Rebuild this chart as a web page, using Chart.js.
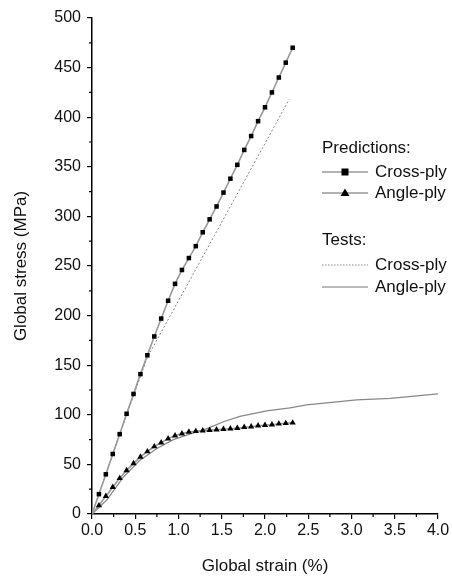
<!DOCTYPE html>
<html>
<head>
<meta charset="utf-8">
<script src="https://cdn.jsdelivr.net/npm/chart.js@4"></script>
<style>
  html, body { margin: 0; padding: 0; background: #fff; }
  #wrap { width: 452px; height: 577px; position: relative; }
</style>
</head>
<body>
<div id="wrap"><canvas id="chart"></canvas></div>
<script>
// Predictions (model) - strain in %, stress in MPa
const predStrain = [0, 0.08, 0.16, 0.24, 0.32, 0.40, 0.48, 0.56, 0.64, 0.72, 0.80, 0.88, 0.96, 1.04, 1.12,
    1.20, 1.28, 1.36, 1.44, 1.52, 1.60, 1.68, 1.76, 1.84, 1.92, 2.00, 2.08, 2.16, 2.24, 2.32];
const crossPredStress = [0, 20, 40, 60.5, 80.5, 101, 121, 141, 160, 179, 197, 215, 232, 246, 258,
    270, 284, 297, 310, 324, 338, 352, 367, 381, 396, 410, 425, 440, 455, 470];
const anglePredStress = [0, 8.5, 18, 27, 36, 44, 51, 57.5, 63, 68, 72, 76, 79, 81, 82.7,
    83.4, 84, 84.5, 85, 85.5, 86, 86.5, 87.5, 88, 89, 89.5, 90, 91, 91.5, 92];

// Tests
const crossTestStrain = [0, 0.32, 0.64, 1.36, 2.28];
const crossTestStress = [0, 80, 158, 272, 418];
const angleTestStrain = [0, 0.17, 0.36, 0.55, 0.75, 0.94, 1.13, 1.33, 1.52, 1.71, 2.02, 2.29, 2.48, 3.06, 3.45, 4.0];
const angleTestStress = [0, 14, 37, 54, 66, 75, 80.5, 86, 93, 98.5, 104, 107, 110, 115, 116.5, 121];

// axis ticks
const xMajor = [0, 0.5, 1.0, 1.5, 2.0, 2.5, 3.0, 3.5, 4.0];
const xMinor = [0.25, 0.75, 1.25, 1.75, 2.25, 2.75, 3.25, 3.75];
const yMinor = [25, 75, 125, 175, 225, 275, 325, 375, 425, 475];

const FONT = 'Liberation Sans, Arial, sans-serif';
const TEXT = '#111';

function zip(xs, ys) {
    return xs.map((x, i) => ({ x: x, y: ys[i] }));
}

// minor ticks, drawn from the scales
const minorTicks = {
    id: 'minorTicks',
    afterDraw(chart) {
        const ctx = chart.ctx;
        const xs = chart.scales.x, ys = chart.scales.y;
        ctx.save();
        ctx.strokeStyle = '#000';
        ctx.lineWidth = 1.2;
        ctx.beginPath();
        xMinor.forEach(v => {
            const px = xs.getPixelForValue(v);
            ctx.moveTo(px, xs.top);
            ctx.lineTo(px, xs.top + 3);
        });
        yMinor.forEach(v => {
            const py = ys.getPixelForValue(v);
            ctx.moveTo(ys.right, py);
            ctx.lineTo(ys.right - 3, py);
        });
        ctx.stroke();
        ctx.restore();
    }
};

// legend with two groups
const groupLegend = {
    id: 'groupLegend',
    afterDraw(chart) {
        const ctx = chart.ctx;
        const x0 = 322, x1 = 368, tx = 375;
        ctx.save();
        ctx.font = '17px ' + FONT;
        ctx.fillStyle = TEXT;
        ctx.textBaseline = 'middle';
        ctx.textAlign = 'left';

        ctx.fillText('Predictions:', x0, 148);
        ctx.fillText('Tests:', x0, 240);

        const rows = [
            { y: 172, label: 'Cross-ply', dash: [], color: '#999', w: 1.6, marker: 'rect' },
            { y: 193, label: 'Angle-ply', dash: [], color: '#999', w: 1.6, marker: 'tri' },
            { y: 265, label: 'Cross-ply', dash: [1.5, 1.5], color: '#888', w: 1, marker: null },
            { y: 287, label: 'Angle-ply', dash: [], color: '#777', w: 1.2, marker: null }
        ];
        rows.forEach(r => {
            ctx.beginPath();
            ctx.setLineDash(r.dash);
            ctx.strokeStyle = r.color;
            ctx.lineWidth = r.w;
            ctx.moveTo(x0, r.y);
            ctx.lineTo(x1, r.y);
            ctx.stroke();
            ctx.setLineDash([]);
            const cx = (x0 + x1) / 2;
            ctx.fillStyle = '#000';
            if (r.marker === 'rect') {
                ctx.fillRect(cx - 3.5, r.y - 3.5, 7, 7);
            } else if (r.marker === 'tri') {
                ctx.beginPath();
                ctx.moveTo(cx, r.y - 4.5);
                ctx.lineTo(cx + 4.5, r.y + 3);
                ctx.lineTo(cx - 4.5, r.y + 3);
                ctx.closePath();
                ctx.fill();
            }
            ctx.fillStyle = TEXT;
            ctx.fillText(r.label, tx, r.y);
        });
        ctx.restore();
    }
};

new Chart(document.getElementById('chart'), {
    type: 'scatter',
    data: {
        datasets: [
            {
                label: 'Predictions Cross-ply',
                data: zip(predStrain, crossPredStress),
                showLine: true,
                borderColor: '#999',
                borderWidth: 1.6,
                pointStyle: 'rect',
                pointRadius: ctx => ctx.dataIndex === 0 ? 0 : 3.2,
                pointBackgroundColor: '#000',
                pointBorderColor: '#000',
                pointBorderWidth: 0
            },
            {
                label: 'Predictions Angle-ply',
                data: zip(predStrain, anglePredStress),
                showLine: true,
                borderColor: '#999',
                borderWidth: 1.6,
                pointStyle: 'triangle',
                pointRadius: ctx => ctx.dataIndex === 0 ? 0 : 3.6,
                pointBackgroundColor: '#000',
                pointBorderColor: '#000',
                pointBorderWidth: 0
            },
            {
                label: 'Tests Cross-ply',
                data: zip(crossTestStrain, crossTestStress),
                showLine: true,
                borderColor: '#888',
                borderWidth: 1,
                borderDash: [2, 2],
                pointRadius: 0
            },
            {
                label: 'Tests Angle-ply',
                data: zip(angleTestStrain, angleTestStress),
                showLine: true,
                borderColor: '#888',
                borderWidth: 1.3,
                pointRadius: 0
            }
        ]
    },
    options: {
        responsive: true,
        maintainAspectRatio: false,
        animation: false,
        layout: { autoPadding: false, padding: { top: 18, right: 14, left: 0, bottom: 0 } },
        plugins: {
            legend: { display: false },
            tooltip: { enabled: false }
        },
        scales: {
            x: {
                type: 'linear',
                min: 0,
                max: 4,
                afterFit: s => { s.height = 63; },
                afterBuildTicks: s => { s.ticks = xMajor.map(v => ({ value: v })); },
                ticks: {
                    color: TEXT,
                    font: { family: FONT, size: 16 },
                    padding: 2,
                    maxRotation: 0,
                    callback: v => v.toFixed(1)
                },
                grid: { drawOnChartArea: false, tickLength: 5, color: '#000', lineWidth: 1.2 },
                border: { color: '#000', width: 1.5 },
                title: {
                    display: true,
                    text: 'Global strain (%)',
                    color: TEXT,
                    font: { family: FONT, size: 17 },
                    padding: { top: 2, bottom: 0 }
                }
            },
            y: {
                type: 'linear',
                min: 0,
                max: 500,
                afterFit: s => { s.width = 92; },
                ticks: {
                    stepSize: 50,
                    color: TEXT,
                    font: { family: FONT, size: 16 },
                    padding: 6
                },
                grid: { drawOnChartArea: false, tickLength: 5, color: '#000', lineWidth: 1.2 },
                border: { color: '#000', width: 1.5 },
                title: {
                    display: true,
                    text: 'Global stress (MPa)',
                    color: TEXT,
                    font: { family: FONT, size: 17 },
                    padding: { top: 11, bottom: 0 }
                }
            }
        }
    },
    plugins: [minorTicks, groupLegend]
});
</script>
</body>
</html>
